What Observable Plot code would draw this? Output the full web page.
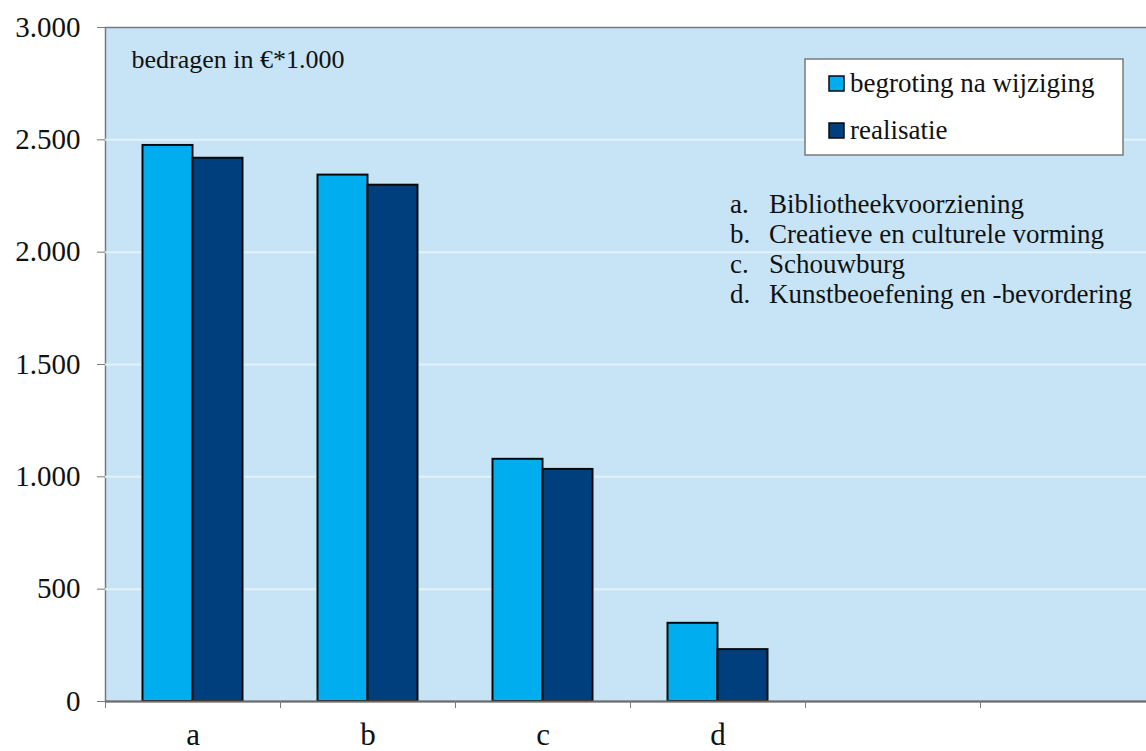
<!DOCTYPE html>
<html>
<head>
<meta charset="utf-8">
<script src="https://cdn.jsdelivr.net/npm/d3@7"></script>
<script src="https://cdn.jsdelivr.net/npm/@observablehq/plot@0.6"></script>
<style>
  html, body { margin: 0; padding: 0; background: white; overflow: hidden; }
  #chart { position: relative; width: 1146px; height: 751px; overflow: hidden; }
  #chart svg, #chart svg text { font-family: "Liberation Serif", "Times New Roman", serif !important; }
</style>
</head>
<body>
<div id="chart"></div>
<script>
// ---- data ----
const categories = ["a", "b", "c", "d"];
const slots = ["a", "b", "c", "d", "e", "f"];          // two empty slots on the right
const slotLabels = ["a", "b", "c", "d", "", ""];
const begroting = [2475, 2343, 1078, 348];              // begroting na wijziging
const realisatie = [2418, 2298, 1033, 231];             // realisatie
const yTicks = [0, 500, 1000, 1500, 2000, 2500, 3000];
const seriesNames = ["begroting na wijziging", "realisatie"];
const categoryNames = [
  "Bibliotheekvoorziening",
  "Creatieve en culturele vorming",
  "Schouwburg",
  "Kunstbeoefening en -bevordering"
];
const unitNote = "bedragen in €*1.000";

// ---- styling ----
const bg = "#c7e4f7";
const light = "#00aeef";
const dark = "#003f7e";
const axisGray = "#7a7a7a";
const font = "'Liberation Serif', 'Times New Roman', serif";

const data = categories.map((c, i) => ({cat: c, begroting: begroting[i], realisatie: realisatie[i]}));
const labelMap = new Map(slots.map((s, i) => [s, slotLabels[i]]));
const fmt = d3.formatLocale({decimal: ",", thousands: ".", grouping: [3], currency: ["€", ""]}).format(",d");

const x0 = 105, x1 = 1155;
const bw = (x1 - x0) / slots.length;   // band width
const barW = bw * 2 / 7;
const padOuter = (bw - 2 * barW) / 2;

const chart = Plot.plot({
  width: 1146,
  height: 751,
  marginLeft: 105,
  marginTop: 27,
  marginBottom: 50,
  marginRight: -10,
  style: {fontFamily: font, color: "#111", background: "white", overflow: "hidden"},
  x: {type: "band", domain: slots, range: [x0, x1], padding: 0, axis: null, label: null},
  y: {domain: [0, 3000], axis: null, label: null},
  marks: [
    Plot.frame({fill: bg, stroke: axisGray, strokeWidth: 1.5}),
    Plot.gridY(yTicks.filter(d => d > 0 && d < 3000), {stroke: "#e3f1fb", strokeOpacity: 1, strokeWidth: 2}),
    Plot.barY(data, {x: "cat", y: "begroting", fill: light, stroke: "#0a0a0a", strokeWidth: 2,
      insetLeft: padOuter, insetRight: padOuter + barW}),
    Plot.barY(data, {x: "cat", y: "realisatie", fill: dark, stroke: "#0a0a0a", strokeWidth: 2,
      insetLeft: padOuter + barW, insetRight: padOuter}),
    Plot.ruleY([0], {stroke: "#6a6a6a", strokeWidth: 2}),
    Plot.axisY(yTicks, {tickSize: 8, tickPadding: 17, tickFormat: fmt, fontSize: 29, stroke: axisGray, label: null}),
    Plot.axisX(slots, {tickSize: 7, tickFormat: () => "", dx: -bw / 2, stroke: axisGray, label: null}),
    Plot.axisX(slots, {tickSize: 0, tickPadding: 21, tickFormat: d => labelMap.get(d), fontSize: 31, label: null}),
    Plot.text([unitNote], {frameAnchor: "top-left", dx: 26, dy: 40, lineAnchor: "bottom",
      textAnchor: "start", fontSize: 26, fill: "#111"})
  ]
});

document.getElementById("chart").appendChild(chart);

// ---- legend box and category key (layout inside the plot area) ----
const svg = d3.select(chart);
const lg = svg.append("g").attr("font-family", font).attr("fill", "#111").attr("text-anchor", "start");
lg.append("rect").attr("x", 805).attr("y", 59).attr("width", 318).attr("height", 96)
  .attr("fill", "white").attr("stroke", axisGray).attr("stroke-width", 1.5);
const legendColors = [light, dark];
seriesNames.forEach((name, i) => {
  const base = 92 + i * 47;
  lg.append("rect").attr("x", 829).attr("y", base - 16).attr("width", 15).attr("height", 15)
    .attr("fill", legendColors[i]).attr("stroke", "#0a0a0a").attr("stroke-width", 1.5);
  lg.append("text").attr("x", 850).attr("y", base).attr("font-size", 27).text(name);
});
categoryNames.forEach((name, i) => {
  const base = 213 + i * 30;
  lg.append("text").attr("x", 730).attr("y", base).attr("font-size", 27).text(categories[i] + ".");
  lg.append("text").attr("x", 769).attr("y", base).attr("font-size", 27).text(name);
});
</script>
</body>
</html>
